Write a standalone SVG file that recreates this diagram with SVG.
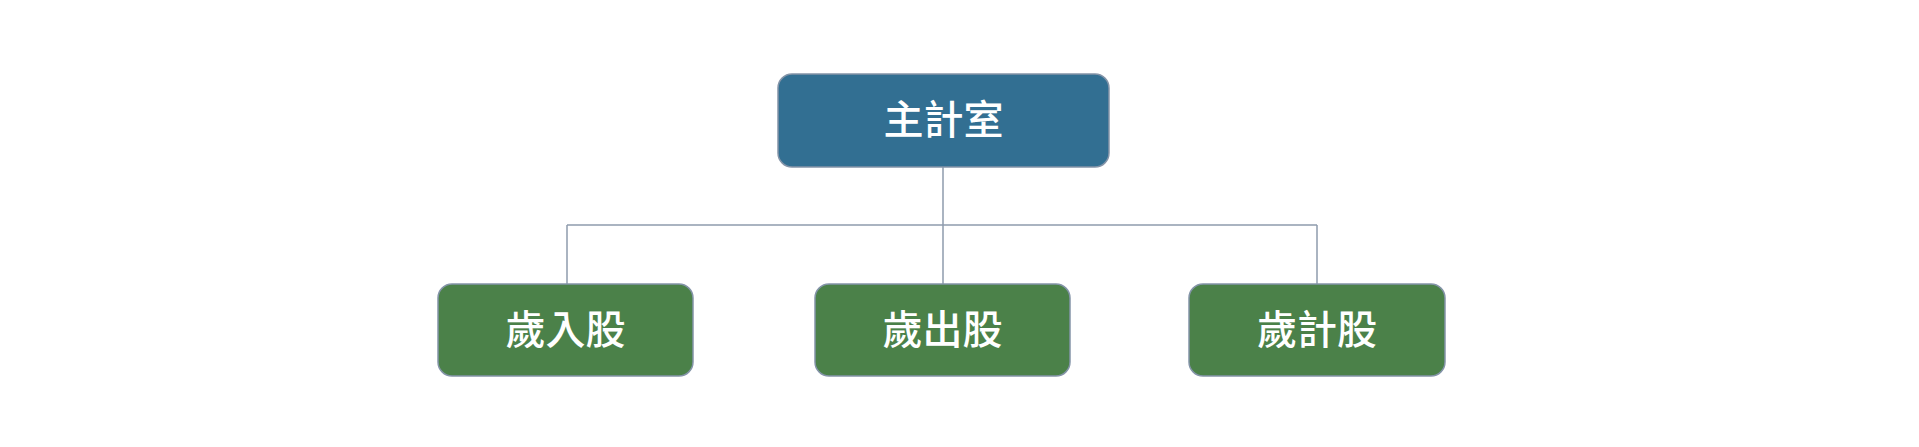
<svg xmlns="http://www.w3.org/2000/svg" width="1919" height="447" viewBox="0 0 1919 447">
<style>
.box{stroke:#8494A8;stroke-width:1.5}
.top{fill:#326F92}
.sub{fill:#4B8149}
.lbl{fill:#FFFFFF;font-family:"Noto Sans CJK TC","Noto Sans CJK SC",sans-serif;font-size:40px;font-weight:500;text-anchor:middle;dominant-baseline:central}
.conn{stroke:#8E9BAC;stroke-width:1.5;fill:none}
</style>
<rect width="1919" height="447" fill="#FFFFFF"/>
<g id="connectors">
<path class="conn" d="M943 167V225"/>
<path class="conn" d="M567 225H1317"/>
<path class="conn" d="M567 225V284"/>
<path class="conn" d="M943 225V284"/>
<path class="conn" d="M1317 225V284"/>
</g>
<g id="node-main">
<rect class="box top" x="778" y="74" width="331" height="93" rx="14"/>
<text class="lbl" x="943.5" y="117">主計室</text>
</g>
<g id="node-revenue">
<rect class="box sub" x="438" y="284" width="255" height="92" rx="14"/>
<text class="lbl" x="565.5" y="327">歲入股</text>
</g>
<g id="node-expenditure">
<rect class="box sub" x="815" y="284" width="255" height="92" rx="14"/>
<text class="lbl" x="942.5" y="327">歲出股</text>
</g>
<g id="node-accounting">
<rect class="box sub" x="1189" y="284" width="256" height="92" rx="14"/>
<text class="lbl" x="1317" y="327">歲計股</text>
</g>
</svg>
